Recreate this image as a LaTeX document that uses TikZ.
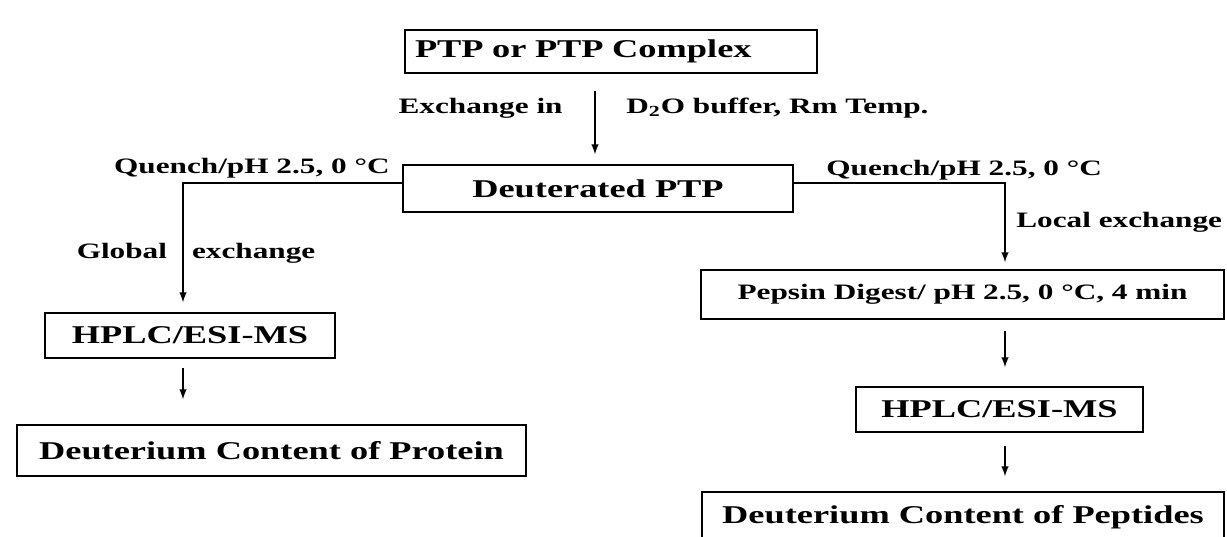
\documentclass[tikz,border=0pt]{standalone}
\usepackage{fontspec}
\setmainfont{Liberation Serif}[FakeStretch=1.42]
\tikzset{
  procbox/.style={draw,line width=0.8pt,inner sep=0pt,font=\fontsize{12.8}{15}\selectfont\bfseries},
  lbl/.style={inner sep=0pt,font=\fontsize{11}{13}\selectfont\bfseries},
  arr/.style={-latex,line width=0.7pt}
}
\begin{document}
\begin{tikzpicture}[x=0.5pt,y=-0.5pt]
				\useasboundingbox (0,0) rectangle (1227,536);
				% boxes
				\node[procbox,minimum width=206pt,minimum height=21.5pt,text width=196pt,align=left] (ptp) at (611,51.5) {PTP or PTP Complex};
				\node[procbox,minimum width=195pt,minimum height=23.5pt] (deut) at (598,188.5) {Deuterated PTP};
				\node[procbox,minimum width=145pt,minimum height=22.5pt] (hplcL) at (190,335.5) {HPLC/ESI-MS};
				\node[procbox,minimum width=254.5pt,minimum height=25.5pt] (protL) at (271.5,450.5) {Deuterium Content of Protein};
				\node[procbox,minimum width=261.5pt,minimum height=24.5pt,font=\fontsize{11}{13}\selectfont\bfseries] (pepsin) at (962.5,294.5) {Pepsin Digest/ pH 2.5, 0 °C, 4 min};
				\node[procbox,minimum width=143.5pt,minimum height=22.5pt] (hplcR) at (999.5,409.5) {HPLC/ESI-MS};
				\node[procbox,minimum width=261pt,minimum height=25pt] (peptR) at (963,517) {Deuterium Content of Peptides};
				% labels
				\node[lbl,anchor=east] at (563,108) {Exchange in};
				\node[lbl,anchor=west] at (626,108) {D\textsubscript{2}O buffer, Rm Temp.};
				\node[lbl,anchor=east] at (390,168) {Quench/pH 2.5, 0 °C};
				\node[lbl,anchor=west] at (826,170) {Quench/pH 2.5, 0 °C};
				\node[lbl] at (196,253) {Global\hspace{12.5pt}exchange};
				\node[lbl,anchor=west] at (1016,222) {Local exchange};
				% arrows
				\draw[arr,shorten <=8.5pt,shorten >=5pt] ([xshift=-8pt]ptp.south) -- ([xshift=-8pt]ptp.south |- deut.north);
				\draw[arr,shorten >=5pt] ([yshift=2.75pt]deut.west) -| ([xshift=-3.5pt]hplcL.north);
				\draw[arr,shorten >=3.5pt] ([yshift=2.75pt]deut.east) -| ([xshift=21.25pt]pepsin.north);
				\draw[arr,shorten <=4.5pt,shorten >=12.5pt] ([xshift=-3.5pt]hplcL.south) -- ([xshift=-3.5pt]hplcL.south |- protL.north);
				\draw[arr,shorten <=5.5pt,shorten >=9.5pt] ([xshift=21.25pt]pepsin.south) -- ([xshift=21.25pt]pepsin.south |- hplcR.north);
				\draw[arr,shorten <=6.5pt,shorten >=7.5pt] ([xshift=2.75pt]hplcR.south) -- ([xshift=2.75pt]hplcR.south |- peptR.north);

		\end{tikzpicture}
\end{document}
